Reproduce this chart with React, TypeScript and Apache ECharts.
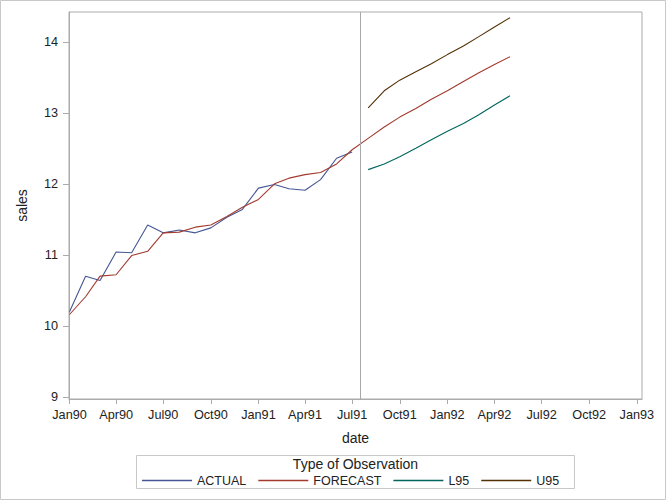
import React, { useEffect, useRef } from "react";
import * as echarts from "echarts";

// Monthly dates of the forecast output (Jan90 .. May92)
const forecastDates = [
  "1990-01", "1990-02", "1990-03", "1990-04", "1990-05", "1990-06",
  "1990-07", "1990-08", "1990-09", "1990-10", "1990-11", "1990-12",
  "1991-01", "1991-02", "1991-03", "1991-04", "1991-05", "1991-06",
  "1991-07", "1991-08", "1991-09", "1991-10", "1991-11", "1991-12",
  "1992-01", "1992-02", "1992-03", "1992-04", "1992-05",
];
const actualDates = forecastDates.slice(0, 19);
const boundDates = forecastDates.slice(19);

const actualValues = [
  10.2, 10.7, 10.64, 11.04, 11.03, 11.42, 11.31, 11.35, 11.31, 11.38, 11.53, 11.64,
  11.94, 11.99, 11.93, 11.91, 12.06, 12.36, 12.45,
];
const forecastValues = [
  10.16, 10.41, 10.7, 10.72, 10.99, 11.05, 11.31, 11.32, 11.39, 11.42, 11.54, 11.67,
  11.78, 12.0, 12.08, 12.13, 12.16, 12.28, 12.48, 12.64, 12.8, 12.94, 13.06, 13.19,
  13.31, 13.44, 13.56, 13.68, 13.79,
];
const l95Values = [12.2, 12.28, 12.38, 12.5, 12.62, 12.74, 12.85, 12.97, 13.11, 13.24];
const u95Values = [13.07, 13.31, 13.46, 13.58, 13.69, 13.82, 13.94, 14.07, 14.21, 14.34];

const xTickDates = [
  "1990-01", "1990-04", "1990-07", "1990-10", "1991-01", "1991-04", "1991-07",
  "1991-10", "1992-01", "1992-04", "1992-07", "1992-10", "1993-01",
];
const yTicks = [9, 10, 11, 12, 13, 14];
const referenceDate = "1991-07-16";
const seriesNames = ["ACTUAL", "FORECAST", "L95", "U95"];
const seriesColors = ["#445694", "#A23A2E", "#01665E", "#543005"];
const monthNames = ["Jan", "Feb", "Mar", "Apr", "May", "Jun", "Jul", "Aug", "Sep", "Oct", "Nov", "Dec"];

const toTs = (s: string) => {
  const p = s.split("-").map(Number);
  return Date.UTC(p[0], p[1] - 1, p[2] || 1);
};
const pairs = (dates: string[], vals: number[]) => dates.map((d, i) => [toTs(d), vals[i]]);

const FONT = "'Liberation Sans', Arial, Helvetica, sans-serif";
const AXIS_COLOR = "#ababab";
const TEXT_COLOR = "#222";

export default function App() {
  const ref = useRef<HTMLDivElement>(null);
  useEffect(() => {
    document.body.style.margin = "0";
    const chart = echarts.init(ref.current!, null, { renderer: "svg" });
    const lineSeries = (name: string, data: number[][], color: string, extra: any = {}) => ({
      name,
      type: "line",
      data,
      symbol: "none",
      showSymbol: false,
      lineStyle: { color, width: 1.1 },
      itemStyle: { color },
      ...extra,
    });
    const xTicks = xTickDates.map(toTs);
    chart.setOption({
      animation: false,
      textStyle: { fontFamily: FONT },
      grid: {
        left: 69,
        right: 24,
        top: 12,
        bottom: 101,
        show: true,
        borderColor: AXIS_COLOR,
        borderWidth: 1,
      },
      xAxis: {
        type: "value",
        min: Date.UTC(1989, 11, 31),
        max: Date.UTC(1993, 0, 11),
        name: "date",
        nameLocation: "middle",
        nameGap: 32,
        nameTextStyle: { fontSize: 14, color: TEXT_COLOR, fontFamily: FONT },
        axisLine: { show: true, lineStyle: { color: AXIS_COLOR } },
        axisTick: {
          show: true,
          length: 5,
          lineStyle: { color: AXIS_COLOR },
          customValues: xTicks,
        },
        axisLabel: {
          customValues: xTicks,
          margin: 9,
          fontSize: 12.7,
          color: TEXT_COLOR,
          fontFamily: FONT,
          showMinLabel: true,
          showMaxLabel: true,
          formatter: (v: number) => {
            const d = new Date(v);
            return monthNames[d.getUTCMonth()] + String(d.getUTCFullYear()).slice(2);
          },
        },
        splitLine: { show: false },
      },
      yAxis: {
        type: "value",
        min: 8.97,
        max: 14.42,
        name: "sales",
        nameLocation: "middle",
        nameGap: 40,
        nameRotate: 90,
        nameTextStyle: { fontSize: 14, color: TEXT_COLOR, fontFamily: FONT },
        axisLine: { show: true, lineStyle: { color: AXIS_COLOR } },
        axisTick: {
          show: true,
          length: 6,
          lineStyle: { color: AXIS_COLOR },
          customValues: yTicks,
        },
        axisLabel: {
          customValues: yTicks,
          margin: 11,
          fontSize: 12.7,
          color: TEXT_COLOR,
          fontFamily: FONT,
        },
        splitLine: { show: false },
      },
      legend: {
        data: seriesNames,
        icon: "rect",
        left: 142,
        top: 474,
        padding: 0,
        itemWidth: 50,
        itemHeight: 1.3,
        itemGap: 12,
        textStyle: { fontSize: 12.5, color: TEXT_COLOR, fontFamily: FONT },
      },
      graphic: [
        {
          type: "rect",
          shape: { x: 0.5, y: 0.5, width: 665, height: 499 },
          style: { fill: "none", stroke: "#c8c8c8", lineWidth: 1 },
          silent: true,
        },
        {
          type: "rect",
          shape: { x: 136.5, y: 455.5, width: 438, height: 33 },
          style: { fill: "none", stroke: "#c8c8c8", lineWidth: 1 },
          silent: true,
        },
        {
          type: "text",
          x: 355.5,
          y: 464,
          style: {
            text: "Type of Observation",
            fill: TEXT_COLOR,
            fontSize: 14,
            fontFamily: FONT,
            textAlign: "center",
            textVerticalAlign: "middle",
          },
          silent: true,
        },
      ],
      series: [
        lineSeries(seriesNames[0], pairs(actualDates, actualValues), seriesColors[0], {
          markLine: {
            silent: true,
            symbol: ["none", "none"],
            label: { show: false },
            lineStyle: { color: "#a8a8a8", width: 1, type: "solid" },
            data: [{ xAxis: toTs(referenceDate) }],
          },
        }),
        lineSeries(seriesNames[1], pairs(forecastDates, forecastValues), seriesColors[1]),
        lineSeries(seriesNames[2], pairs(boundDates, l95Values), seriesColors[2]),
        lineSeries(seriesNames[3], pairs(boundDates, u95Values), seriesColors[3]),
      ],
    });
    return () => chart.dispose();
  }, []);
  return <div ref={ref} style={{ width: 666, height: 500 }} />;
}
